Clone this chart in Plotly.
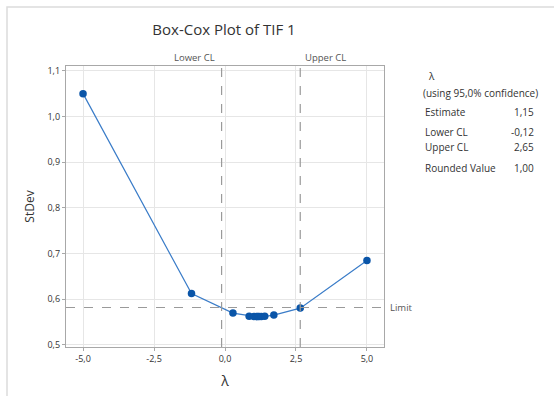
import plotly.graph_objects as go

# Data
lam = [-5.0, -1.18, 0.28, 0.85, 1.02, 1.1, 1.15, 1.2, 1.28, 1.4, 1.72, 2.65, 5.0]
stdev = [1.05, 0.6124, 0.5697, 0.5628, 0.5624, 0.5622, 0.5621, 0.5622, 0.5623, 0.5627, 0.5653, 0.5806, 0.685]
lower_cl = -0.12
upper_cl = 2.65
limit = 0.582

x_tickvals = [-5.0, -2.5, 0.0, 2.5, 5.0]
x_ticktext = ["-5,0", "-2,5", "0,0", "2,5", "5,0"]
y_tickvals = [0.5, 0.6, 0.7, 0.8, 0.9, 1.0, 1.1]
y_ticktext = ["0,5", "0,6", "0,7", "0,8", "0,9", "1,0", "1,1"]

panel_labels = ["Estimate", "Lower CL", "Upper CL", "Rounded Value"]
panel_values = ["1,15", "-0,12", "2,65", "1,00"]

FONT = "Open Sans"
L, R, T, B = 66, 170, 66, 49
W, H = 554, 396
PW = W - L - R
PH = H - T - B

def px_x(p):
    return (p - L) / PW

def px_y(p):
    return (H - B - p) / PH

fig = go.Figure()

fig.add_trace(go.Scatter(
    x=lam, y=stdev, mode="lines+markers",
    line=dict(color="#3a7cc8", width=1.2),
    marker=dict(color="#0a55a8", size=7.5),
    showlegend=False, hoverinfo="skip",
))

shapes = []
for v in (lower_cl, upper_cl):
    shapes.append(dict(type="line", xref="x", yref="paper", x0=v, x1=v, y0=0, y1=1,
                       line=dict(color="#9a9a9a", width=1.2, dash="dash")))
shapes.append(dict(type="line", xref="paper", yref="y", x0=0, x1=1, y0=limit, y1=limit,
                   line=dict(color="#9a9a9a", width=1.2, dash="dash")))
# outer frame border
shapes.append(dict(type="rect", xref="paper", yref="paper",
                   x0=px_x(7), x1=px_x(600), y0=px_y(440), y1=px_y(7),
                   line=dict(color="#dcdcdc", width=1.5), fillcolor="rgba(0,0,0,0)", layer="below"))

ann = []
ann.append(dict(x=lower_cl, xref="x", y=px_y(57), yref="paper", text="Lower CL",
                showarrow=False, xanchor="right", yanchor="middle", xshift=-5,
                font=dict(size=9.5, color="#555")))
ann.append(dict(x=upper_cl, xref="x", y=px_y(57), yref="paper", text="Upper CL",
                showarrow=False, xanchor="left", yanchor="middle", xshift=3,
                font=dict(size=9.5, color="#555")))
ann.append(dict(x=px_x(388), xref="paper", y=limit, yref="y", text="Limit",
                showarrow=False, xanchor="left", yanchor="middle",
                font=dict(size=9.5, color="#555")))
ann.append(dict(x=px_x(431), xref="paper", y=px_y(76), yref="paper", text="λ",
                showarrow=False, xanchor="center", yanchor="middle",
                font=dict(size=10, color="#333")))
ann.append(dict(x=px_x(480), xref="paper", y=px_y(93), yref="paper", text="(using 95,0% confidence)",
                showarrow=False, xanchor="center", yanchor="middle",
                font=dict(size=10, color="#333")))
rows_y = [112, 132, 147, 168]
for lab, val, py in zip(panel_labels, panel_values, rows_y):
    ann.append(dict(x=px_x(423), xref="paper", y=px_y(py), yref="paper", text=lab,
                    showarrow=False, xanchor="left", yanchor="middle",
                    font=dict(size=10, color="#333")))
    ann.append(dict(x=px_x(536), xref="paper", y=px_y(py), yref="paper", text=val,
                    showarrow=False, xanchor="right", yanchor="middle",
                    font=dict(size=10, color="#333")))

fig.update_layout(
    width=W, height=H,
    margin=dict(l=L, r=R, t=T, b=B, autoexpand=False),
    paper_bgcolor="white", plot_bgcolor="white",
    font=dict(family=FONT, color="#333"),
    title=dict(text="Box-Cox Plot of TIF 1", x=224 / W, xanchor="center",
               y=1 - 30 / H, yanchor="middle", yref="container",
               font=dict(size=15, color="#333", family=FONT)),
    shapes=shapes, annotations=ann,
    xaxis=dict(range=[-5.6, 5.6], tickvals=x_tickvals, ticktext=x_ticktext,
               showgrid=True, gridcolor="#e6e6e6", gridwidth=1, zeroline=False,
               showline=True, linecolor="#a8a8a8", linewidth=1.2, mirror=True,
               ticks="outside", ticklen=3, tickcolor="#a8a8a8",
               tickfont=dict(size=9, color="#333"), automargin=False,
               title=dict(text="λ", font=dict(size=14, color="#333"), standoff=12)),
    yaxis=dict(range=[0.4955, 1.1105], tickvals=y_tickvals, ticktext=y_ticktext,
               showgrid=True, gridcolor="#e6e6e6", gridwidth=1, zeroline=False,
               showline=True, linecolor="#a8a8a8", linewidth=1.2, mirror=True,
               ticks="outside", ticklen=3, tickcolor="#a8a8a8",
               tickfont=dict(size=9, color="#333"), automargin=False,
               title=dict(text="StDev", font=dict(size=12, color="#333"), standoff=10)),
)

fig.write_html("out.html", config={"displayModeBar": False},
               post_script="document.body.style.margin='0';document.body.style.overflow='hidden';")
